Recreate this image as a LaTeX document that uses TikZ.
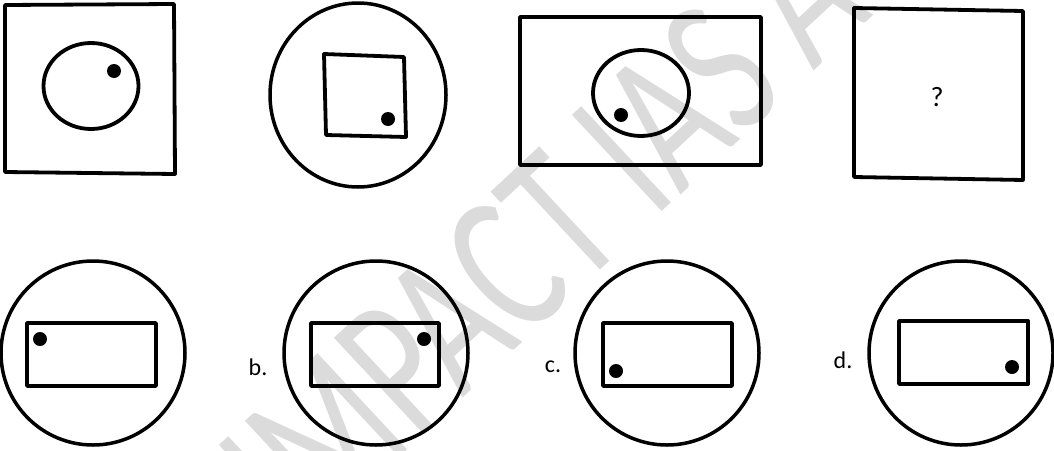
\documentclass[tikz,border=0pt]{standalone}
\usepackage{fontspec}
\setmainfont{Carlito}
\begin{document}
\begin{tikzpicture}[x=1pt,y=-1pt,
  outl/.style={line width=3.8pt,line join=round},
  ring/.style={line width=3.5pt},
  dot/.style={fill=black},
  lbl/.style={font=\fontsize{24}{24}\selectfont,inner sep=0pt},
  wm/.style={font=\fontsize{205}{205}\selectfont,text=black!14,inner sep=0pt}]
\useasboundingbox (0,0) rectangle (1054,450);
\begin{scope}
\clip (0,0) rectangle (1054,450);
\node[wm,rotate=43,xscale=0.7,anchor=base west] (wmark) at (300,550) {IMPACT IAS ACADEMY};
\end{scope}
% figure 1
\draw[outl] (5,5) -- (174,4) -- (175,174) -- (5,172) -- cycle;
\draw[outl] (91,86) ellipse [x radius=47.5, y radius=43];
\fill[dot] (114,71) circle (7);
% figure 2
\draw[ring] (358,95) ellipse [x radius=88, y radius=92];
\draw[outl] (324,54) -- (404,57) -- (406,137) -- (326,135) -- cycle;
\fill[dot] (388,119) circle (7);
% figure 3
\draw[outl] (520,17) rectangle (761,165);
\draw[outl] (641,93) ellipse [x radius=48, y radius=43];
\fill[dot] (621,115) circle (7);
% figure 4
\draw[outl] (854,8) -- (1023,11) -- (1023,180) -- (854,177) -- cycle;
\node[font=\fontsize{28}{28}\selectfont,inner sep=0pt] (q) at (937,97) {?};
% option a
\draw[ring] (93,353) circle (92);
\draw[outl] (27,323) rectangle (156,386);
\fill[dot] (40,339) circle (7);
% option b
\node[lbl] (lb) at (258,367) {b.};
\draw[ring] (376,353) circle (92);
\draw[outl] (311,323) rectangle (439,386);
\fill[dot] (424,339) circle (7);
% option c
\node[lbl] (lc) at (553,367) {c.};
\draw[ring] (667,353) circle (92);
\draw[outl] (603,323) rectangle (732,386);
\fill[dot] (616,371) circle (7);
% option d
\node[lbl] (ld) at (843,360) {d.};
\draw[ring] (961,353) circle (92);
\draw[outl] (899,321) rectangle (1028,384);
\fill[dot] (1012,367) circle (7);
\end{tikzpicture}
\end{document}
